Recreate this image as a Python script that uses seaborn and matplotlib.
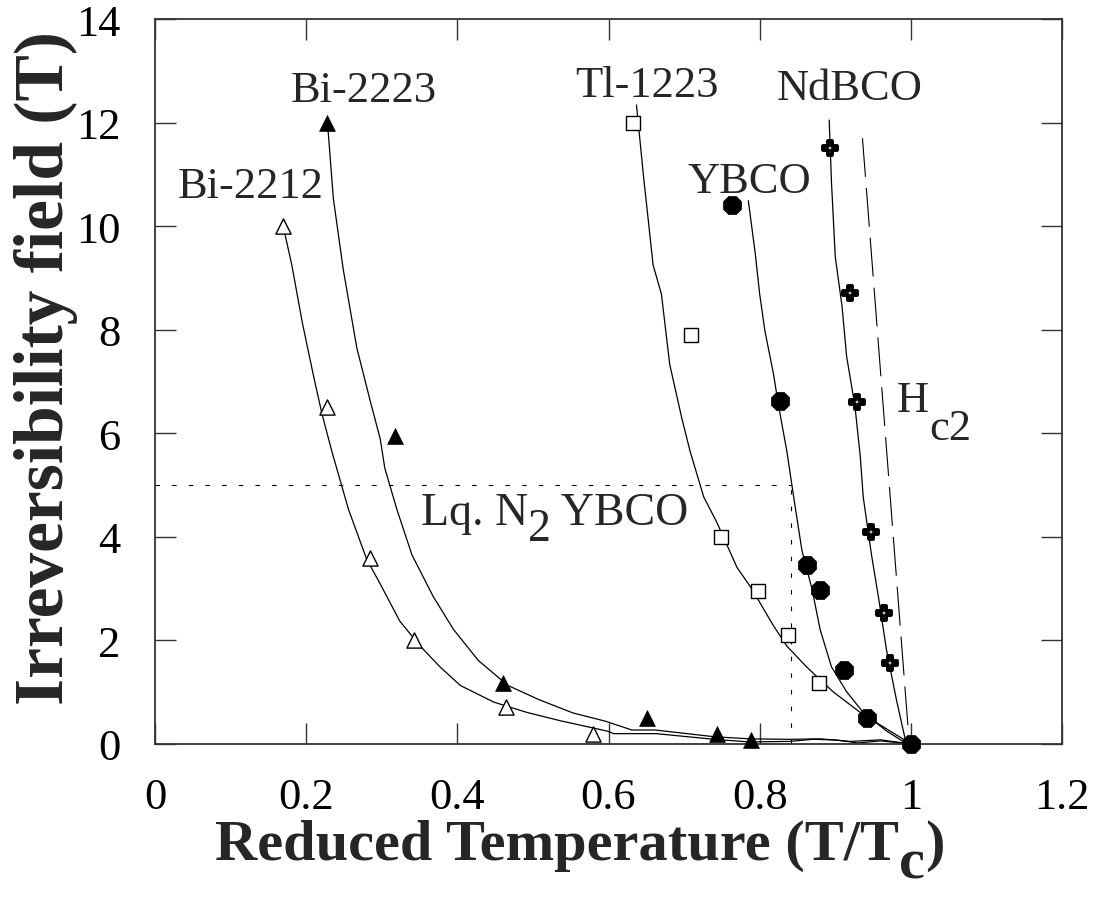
import numpy as np
import pandas as pd
import seaborn as sns
import matplotlib
matplotlib.use("Agg")
import matplotlib.pyplot as plt
from matplotlib.ticker import FuncFormatter

# ---------------- data ----------------
# measured points
bi2212_x = [0.169, 0.227, 0.285, 0.343, 0.464, 0.580]
bi2212_y = [10.0, 6.5, 3.6, 2.0, 0.72, 0.20]
bi2223_x = [0.227, 0.317, 0.460, 0.651, 0.744, 0.789]
bi2223_y = [12.0, 5.95, 1.17, 0.51, 0.20, 0.08]
tl1223_x = [0.633, 0.709, 0.749, 0.798, 0.838, 0.878]
tl1223_y = [12.0, 7.9, 4.0, 2.95, 2.1, 1.18]
ybco_x = [0.764, 0.827, 0.862, 0.880, 0.912, 0.942, 1.0]
ybco_y = [10.4, 6.63, 3.45, 2.98, 1.42, 0.51, 0.0]
ndbco_x = [0.893, 0.920, 0.929, 0.947, 0.965, 0.973]
ndbco_y = [11.5, 8.7, 6.6, 4.1, 2.53, 1.57]

# fitted curves (as traced)
bi2212_cx = [0.169, 0.181, 0.195, 0.210, 0.221, 0.234, 0.256, 0.280, 0.298, 0.324,
             0.351, 0.377, 0.404, 0.448, 0.492, 0.536, 0.598, 0.607, 0.663, 0.740,
             0.786, 0.840, 0.870, 0.900, 0.930, 0.960, 1.0]
bi2212_cy = [10.04, 9.25, 8.13, 7.09, 6.37, 5.65, 4.53, 3.57, 3.09, 2.37,
             1.89, 1.49, 1.13, 0.81, 0.61, 0.45, 0.25, 0.20, 0.20, 0.09,
             0.04, 0.05, 0.09, 0.08, 0.02, 0.06, 0.0]
bi2223_cx = [0.229, 0.236, 0.249, 0.267, 0.285, 0.298, 0.304, 0.320, 0.340, 0.368,
             0.395, 0.428, 0.467, 0.509, 0.553, 0.596, 0.631, 0.662, 0.740, 0.786,
             0.840, 0.880, 0.920, 0.960, 1.0]
bi2223_cy = [11.85, 10.53, 9.17, 7.65, 6.61, 5.89, 5.33, 4.53, 3.65, 2.85,
             2.21, 1.61, 1.13, 0.85, 0.60, 0.44, 0.27, 0.27, 0.14, 0.10,
             0.09, 0.10, 0.05, 0.08, 0.0]
tl1223_cx = [0.637, 0.646, 0.659, 0.670, 0.681, 0.697, 0.708, 0.726, 0.743, 0.770,
             0.789, 0.818, 0.836, 0.862, 0.897, 0.933, 0.968, 0.995, 1.0]
tl1223_cy = [12.34, 11.01, 9.25, 8.69, 7.33, 6.29, 5.65, 4.77, 4.29, 3.41,
             3.01, 2.29, 1.89, 1.49, 1.01, 0.61, 0.29, 0.05, 0.0]
ybco_cx = [0.785, 0.794, 0.800, 0.807, 0.818, 0.825, 0.836, 0.845, 0.856, 0.869,
           0.880, 0.895, 0.915, 0.937, 0.968, 0.995]
ybco_cy = [10.49, 9.49, 8.69, 7.97, 7.17, 6.53, 5.65, 4.77, 3.73, 3.01,
           2.21, 1.49, 1.01, 0.61, 0.25, 0.0]
ndbco_cx = [0.892, 0.895, 0.900, 0.909, 0.915, 0.926, 0.933, 0.937, 0.948, 0.957,
            0.968, 0.981, 0.994]
ndbco_cy = [12.05, 10.85, 9.41, 8.45, 7.49, 6.53, 5.57, 4.77, 3.65, 2.85,
            1.80, 0.85, 0.0]
hc2_x = [0.936, 0.998]
hc2_y = [11.7, 0.0]

lqn2_t = 0.842      # reduced temperature of liquid N2 for YBCO
lqn2_field = 5.0    # field at that temperature

x_ticks = [0, 0.2, 0.4, 0.6, 0.8, 1.0, 1.2]
y_ticks = [0, 2, 4, 6, 8, 10, 12, 14]

# ---------------- style ----------------
sns.set_theme(style="ticks")
plt.rcParams["font.family"] = ["Liberation Serif", "DejaVu Serif"]
plt.rcParams["mathtext.fontset"] = "stix"

W, H = 1104, 912
fig = plt.figure(figsize=(W / 100, H / 100), dpi=100)
fig.patch.set_facecolor("white")
ax = fig.add_axes([155 / W, 1 - 745 / H, (1062 - 155) / W, (745 - 20) / H])
ax.set_facecolor("white")

LW = 0.9
for cx, cy in [(bi2212_cx, bi2212_cy), (bi2223_cx, bi2223_cy),
               (tl1223_cx, tl1223_cy), (ybco_cx, ybco_cy), (ndbco_cx, ndbco_cy)]:
    sns.lineplot(x=cx, y=cy, sort=False, estimator=None, color="black",
                 lw=LW, ax=ax, zorder=2)

# Hc2 dashed line
sns.lineplot(x=hc2_x, y=hc2_y, sort=False, estimator=None, color="black",
             lw=0.8, ax=ax, zorder=2, linestyle=(0, (35, 10)))

# liquid N2 dotted guide lines
ax.hlines(lqn2_field, 0, lqn2_t, colors="black", lw=0.8, linestyles=[(0, (4, 11))], zorder=1)
ax.vlines(lqn2_t, 0, lqn2_field, colors="black", lw=0.8, linestyles=[(0, (4, 11))], zorder=1)

# markers
sns.scatterplot(x=bi2212_x, y=bi2212_y, marker="^", s=120, color="white",
                edgecolor="black", linewidth=1.0, ax=ax, zorder=4, clip_on=False)
sns.scatterplot(x=bi2223_x, y=bi2223_y, marker="^", s=130, color="black",
                edgecolor="black", linewidth=0.5, ax=ax, zorder=4, clip_on=False)
sns.scatterplot(x=tl1223_x, y=tl1223_y, marker="s", s=95, color="white",
                edgecolor="black", linewidth=1.0, ax=ax, zorder=4, clip_on=False)
sns.scatterplot(x=ybco_x, y=ybco_y, marker="8", s=200, color="black",
                edgecolor="black", linewidth=0.5, ax=ax, zorder=4, clip_on=False)
sns.scatterplot(x=ndbco_x, y=ndbco_y, marker="P", s=105, color="white",
                edgecolor="black", linewidth=2.8, ax=ax, zorder=4, clip_on=False)

# ---------------- axes ----------------
ax.set_xlim(0, 1.2)
ax.set_ylim(0, 14)
ax.set_xticks(x_ticks)
ax.set_yticks(y_ticks)
ax.xaxis.set_major_formatter(FuncFormatter(lambda v, p: f"{v:g}"))
ax.yaxis.set_major_formatter(FuncFormatter(lambda v, p: f"{v:g}"))
ax.tick_params(axis="both", direction="in", length=15, width=1.0, color="#333333",
               top=True, right=True, labelsize=32, labelcolor="black")
ax.tick_params(axis="x", pad=24)
ax.tick_params(axis="y", pad=25)
for s in ax.spines.values():
    s.set_visible(True)
    s.set_linewidth(1.3)
    s.set_color("#333333")
ax.set_xlabel("")
ax.set_ylabel("")

# ---------------- annotations ----------------
FS = 32
ax.text(0.030, 10.56, "Bi-2212", fontsize=FS, ha="left", va="baseline")
ax.text(0.179, 12.42, "Bi-2223", fontsize=FS, ha="left", va="baseline")
ax.text(0.556, 12.51, "Tl-1223", fontsize=FS, ha="left", va="baseline")
ax.text(0.822, 12.45, "NdBCO", fontsize=FS, ha="left", va="baseline")
ax.text(0.704, 10.66, "YBCO", fontsize=FS, ha="left", va="baseline")

t1 = ax.text(0.352, 4.05, "Lq. N", fontsize=33, ha="left", va="bottom")
t2 = ax.annotate("2", xy=(1, 0), xycoords=t1, xytext=(0, -11.5),
                 textcoords="offset points", fontsize=33, ha="left", va="bottom")
ax.annotate(" YBCO", xy=(1, 0), xycoords=t2, xytext=(0, 11.5),
            textcoords="offset points", fontsize=33, ha="left", va="bottom")

h1 = ax.text(0.982, 6.25, "H", fontsize=FS, ha="left", va="bottom")
ax.annotate("c2", xy=(1, 0), xycoords=h1, xytext=(0, -20),
            textcoords="offset points", fontsize=FS, ha="left", va="bottom")

# axis titles (bold serif)
XFS = 42
xl1 = fig.text(215 / W, 1 - 872 / H, "Reduced Temperature (T/T", fontsize=XFS,
               fontweight="bold", ha="left", va="bottom")
xc = ax.annotate("c", xy=(1, 0), xycoords=xl1, xytext=(0, -13),
                 textcoords="offset points", fontsize=XFS, fontweight="bold",
                 ha="left", va="bottom", annotation_clip=False)
ax.annotate(")", xy=(1, 0), xycoords=xc, xytext=(0, 13),
            textcoords="offset points", fontsize=XFS, fontweight="bold",
            ha="left", va="bottom", annotation_clip=False)

fig.text(46 / W, 1 - 368 / H, "Irreversibility field (T)", fontsize=50,
         fontweight="bold", rotation=90, ha="center", va="center")

fig.savefig("out.png", dpi=100, facecolor="white")
